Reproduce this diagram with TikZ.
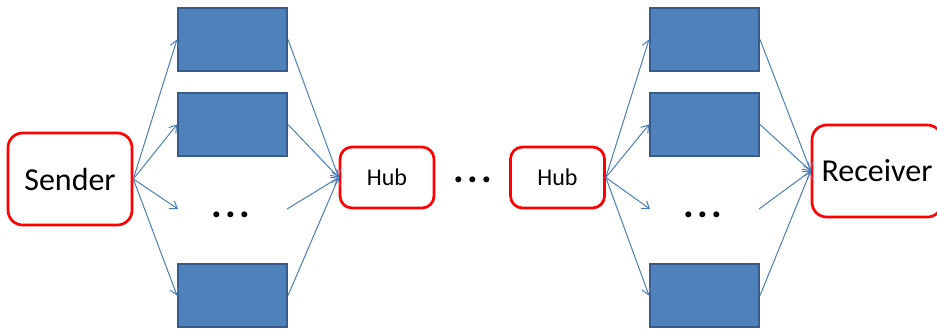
\documentclass[tikz,border=0pt]{standalone}
\usepackage{fontspec}
\setmainfont{Carlito}
\usetikzlibrary{arrows.meta}
\definecolor{relayfill}{HTML}{4F81BD}
\definecolor{relayedge}{HTML}{385D8A}
\definecolor{linkblue}{HTML}{4A7EBB}
\newcommand{\gapdots}{.\hspace{2.5pt}.\hspace{2.5pt}.}

\begin{document}
\begin{tikzpicture}[x=0.75pt,y=-0.75pt,
  endpt/.style={draw=red,line width=2pt,fill=white,rounded corners=11pt,inner sep=0pt,
    minimum height=69pt,font=\fontsize{24}{28}\selectfont},
  hub/.style={draw=red,line width=2pt,fill=white,rounded corners=9pt,inner sep=0pt,
    minimum width=70.5pt,minimum height=45.75pt,font=\fontsize{18}{22}\selectfont},
  relay/.style={draw=relayedge,fill=relayfill,line width=1.5pt,inner sep=0pt,
    minimum width=81.75pt,minimum height=47.25pt},
  more/.style={inner sep=0pt,font=\fontsize{30}{34}\selectfont\bfseries},
  link/.style={draw=linkblue,line width=0.75pt,-{Straight Barb[length=5pt,width=7pt]}}]
\useasboundingbox (0,0) rectangle (937,329);

\node[endpt,minimum width=93pt] (send) at (70,179) {Sender};
\node[hub] (hubA) at (387,177.5) {Hub};
\node[more] (gap) at (472.5,180) {\gapdots};
\node[hub] (hubB) at (557.5,177.5) {Hub};
\node[endpt,minimum width=97.5pt] (recv) at (877,171) {Receiver};

% two columns of relays, third row left open
\foreach \col/\x in {a/232.5,b/704.5}{
  \foreach \row/\y in {1/39.5,2/124.5,4/295.5}
    \node[relay] (\col\row) at (\x,\y) {};
  \node[more] (\col3) at (\x-2,215) {\gapdots};
  \coordinate (\col3w) at (\x-54.5,209);
  \coordinate (\col3e) at (\x+54.5,209);
}

\foreach \row in {1,2,4}{
  \draw[link] (send.east) -- (a\row.west);
  \draw[link] (a\row.east) -- (hubA.west);
  \draw[link] (hubB.east) -- (b\row.west);
  \draw[link] (b\row.east) -- (recv.west);
}
\draw[link] (send.east) -- (a3w);
\draw[link] (a3e) -- (hubA.west);
\draw[link] (hubB.east) -- (b3w);
\draw[link] (b3e) -- (recv.west);
\end{tikzpicture}
\end{document}
